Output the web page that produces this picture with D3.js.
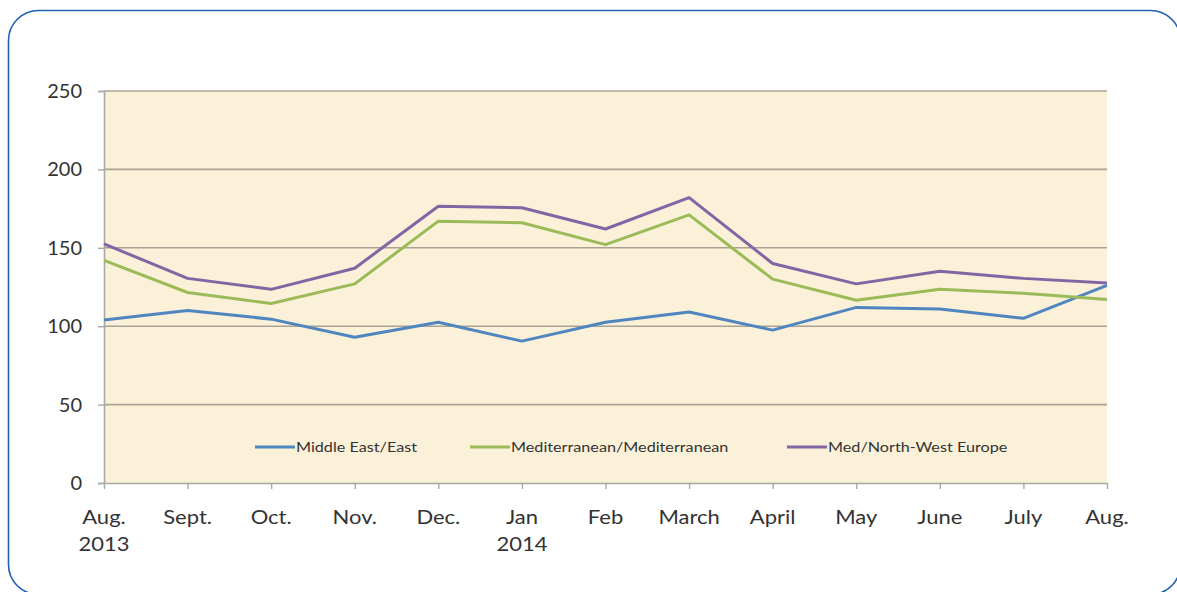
<!DOCTYPE html>
<html>
<head>
<meta charset="utf-8">
<script src="https://cdn.jsdelivr.net/npm/d3@7"></script>
<style>
  html, body { margin: 0; padding: 0; background: #ffffff; }
  svg { display: block; }
  text { font-family: Lato, "Open Sans", sans-serif; fill: #333333; }
</style>
</head>
<body>
<svg id="chart" width="1177" height="592"></svg>
<script>
// Months on the horizontal axis (second line holds the year where shown)
const months = ["Aug.", "Sept.", "Oct.", "Nov.", "Dec.", "Jan", "Feb", "March", "April", "May", "June", "July", "Aug."];
const years  = ["2013", "", "", "", "", "2014", "", "", "", "", "", "", ""];

// Series values
const middleEastEast = [104, 110, 104.5, 93, 102.5, 90.5, 102.5, 109, 97.5, 112, 111, 105, 126];
const medMed         = [142, 121.5, 114.5, 127, 167, 166, 152, 171, 130, 116.5, 123.5, 121, 117];
const medNWEurope    = [152.5, 130.5, 123.5, 137, 176.5, 175.5, 162, 182, 140, 127, 135, 130.5, 127.5];

const seriesNames  = ["Middle East/East", "Mediterranean/Mediterranean", "Med/North-West Europe"];
const seriesColors = ["#4f86c0", "#9bbb59", "#8266a4"];
const yTicks = [0, 50, 100, 150, 200, 250];

const series = [middleEastEast, medMed, medNWEurope].map((vals, i) => ({
  name: seriesNames[i], color: seriesColors[i], values: vals
}));

const svg = d3.select("#chart");

// Rounded frame around the whole figure
svg.append("rect")
  .attr("x", 8.5).attr("y", 10.5)
  .attr("width", 1172).attr("height", 584)
  .attr("rx", 30).attr("ry", 30)
  .attr("fill", "none")
  .attr("stroke", "#2160b3")
  .attr("stroke-width", 1.6);

const plot = { left: 104, right: 1107, top: 91, bottom: 483 };

const idx = d3.range(months.length);
const x = d3.scalePoint().domain(idx).range([plot.left, plot.right]).padding(0);
const y = d3.scaleLinear().domain([0, 250]).range([plot.bottom, plot.top]);

// Plot area background
svg.append("rect")
  .attr("x", plot.left).attr("y", plot.top)
  .attr("width", plot.right - plot.left).attr("height", plot.bottom - plot.top)
  .attr("fill", "#fbf0d8");

// Horizontal gridlines
svg.append("g")
  .selectAll("line")
  .data(yTicks.filter(t => t > 0))
  .join("line")
  .attr("x1", plot.left).attr("x2", plot.right)
  .attr("y1", d => y(d)).attr("y2", d => y(d))
  .attr("stroke", "#aaa294")
  .attr("stroke-width", 1.6);

// Y axis
const yAxis = svg.append("g")
  .attr("transform", `translate(${plot.left},0)`)
  .call(d3.axisLeft(y).tickValues(yTicks).tickSize(6).tickPadding(16));
yAxis.select(".domain").attr("stroke", "#a8a8a8").attr("stroke-width", 1.6);
yAxis.selectAll(".tick line").attr("stroke", "#a8a8a8").attr("stroke-width", 1.4);
yAxis.selectAll(".tick text")
  .attr("font-size", 20)
  .attr("font-family", "Lato, sans-serif")
  .attr("fill", "#333333");

// X axis
const xAxis = svg.append("g")
  .attr("transform", `translate(0,${plot.bottom})`)
  .call(d3.axisBottom(x).tickSize(6).tickSizeOuter(0).tickFormat(() => ""));
xAxis.select(".domain").attr("stroke", "#a8a8a8").attr("stroke-width", 1.6);
xAxis.selectAll(".tick line").attr("stroke", "#a8a8a8").attr("stroke-width", 1.4);
xAxis.selectAll(".tick text").remove();

// Category labels, slightly widened
const xLabels = svg.append("g")
  .selectAll("g")
  .data(idx)
  .join("g")
  .attr("transform", d => `translate(${x(d)},0) scale(1.1,1)`);
xLabels.append("text")
  .attr("y", 524)
  .attr("text-anchor", "middle")
  .attr("font-size", 20)
  .text(d => months[d]);
xLabels.filter(d => years[d]).append("text")
  .attr("y", 551)
  .attr("text-anchor", "middle")
  .attr("font-size", 20)
  .text(d => years[d]);

// Lines
const line = d3.line()
  .x((d, i) => x(i))
  .y(d => y(d));

svg.append("g")
  .selectAll("path")
  .data(series)
  .join("path")
  .attr("d", d => line(d.values))
  .attr("fill", "none")
  .attr("stroke", d => d.color)
  .attr("stroke-width", 3)
  .attr("stroke-linejoin", "round");

// Legend inside the plot area
const legendY = 447;
const legendX = [255, 470, 787];
const legend = svg.append("g")
  .selectAll("g")
  .data(series)
  .join("g")
  .attr("transform", (d, i) => `translate(${legendX[i]},${legendY})`);
legend.append("line")
  .attr("x1", 0).attr("x2", 40)
  .attr("y1", 0).attr("y2", 0)
  .attr("stroke", d => d.color)
  .attr("stroke-width", 3);
legend.append("text")
  .attr("transform", "translate(41,5) scale(1.2,1)")
  .attr("font-size", 13.5)
  .text(d => d.name);
</script>
</body>
</html>
